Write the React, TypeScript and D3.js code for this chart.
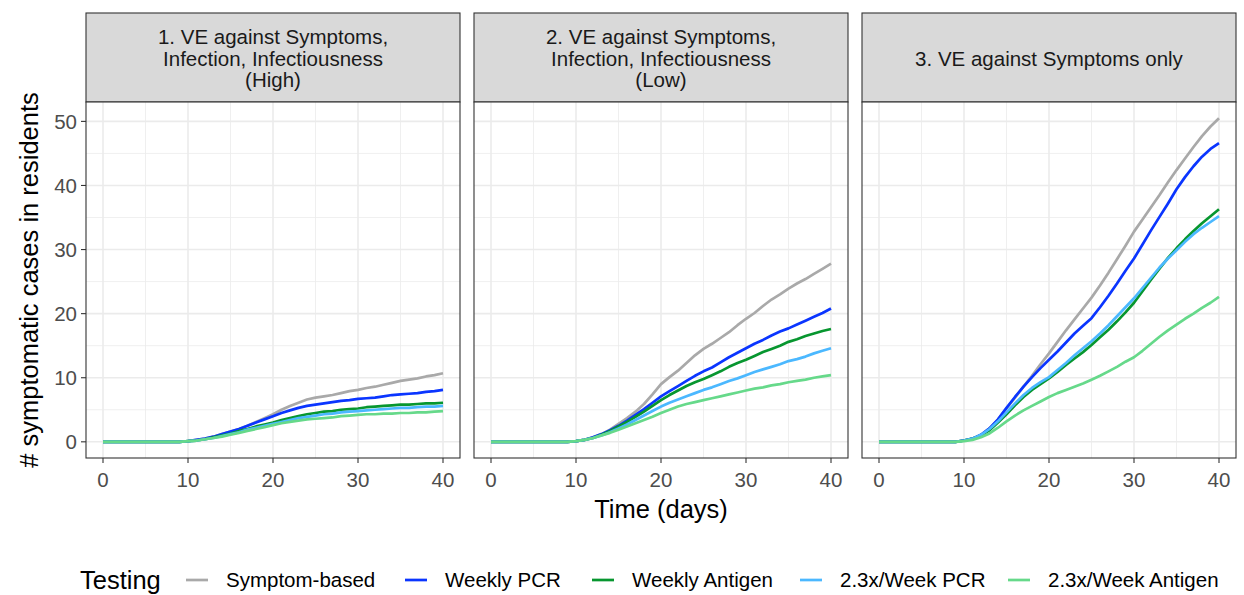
import React from "react";
import * as d3 from "d3";

const days = d3.range(0, 41);
const flat10 = [0, 0, 0, 0, 0, 0, 0, 0, 0, 0];

const seriesNames = ["Symptom-based", "Weekly PCR", "Weekly Antigen", "2.3x/Week PCR", "2.3x/Week Antigen"];
const seriesColors = ["#A9A9A9", "#0A35FF", "#07962F", "#4BB8FF", "#66D98A"];

const panelTitles = [
  ["1. VE against Symptoms,", "Infection, Infectiousness", "(High)"],
  ["2. VE against Symptoms,", "Infection, Infectiousness", "(Low)"],
  ["3. VE against Symptoms only"],
];

// Panel 1 (High)
const p1Symptom = [...flat10, 0.1, 0.3, 0.5, 0.8, 1.2, 1.6, 2.0, 2.5, 3.1, 3.7, 4.3, 5.0, 5.6, 6.1, 6.6, 6.9, 7.1, 7.3, 7.6, 7.9, 8.1, 8.4, 8.6, 8.9, 9.2, 9.5, 9.7, 9.9, 10.2, 10.4, 10.7];
const p1WeeklyPCR = [...flat10, 0.1, 0.3, 0.5, 0.8, 1.2, 1.6, 2.0, 2.5, 3.0, 3.5, 4.0, 4.5, 4.9, 5.3, 5.6, 5.8, 6.0, 6.2, 6.4, 6.5, 6.7, 6.8, 6.9, 7.1, 7.3, 7.4, 7.5, 7.6, 7.8, 7.9, 8.1];
const p1WeeklyAg = [...flat10, 0.1, 0.2, 0.4, 0.7, 1.0, 1.3, 1.7, 2.0, 2.4, 2.7, 3.0, 3.4, 3.7, 4.0, 4.3, 4.5, 4.7, 4.8, 5.0, 5.1, 5.2, 5.4, 5.5, 5.6, 5.7, 5.8, 5.8, 5.9, 6.0, 6.0, 6.1];
const p1TwiceWeekPCR = [...flat10, 0.1, 0.2, 0.4, 0.6, 0.9, 1.2, 1.5, 1.9, 2.2, 2.5, 2.8, 3.1, 3.4, 3.7, 3.9, 4.1, 4.3, 4.4, 4.6, 4.7, 4.8, 4.9, 5.0, 5.1, 5.2, 5.3, 5.3, 5.4, 5.5, 5.5, 5.6];
const p1TwiceWeekAg = [...flat10, 0.1, 0.2, 0.4, 0.6, 0.8, 1.1, 1.4, 1.7, 2.0, 2.3, 2.6, 2.9, 3.1, 3.3, 3.5, 3.6, 3.7, 3.8, 4.0, 4.1, 4.2, 4.3, 4.3, 4.4, 4.4, 4.5, 4.5, 4.6, 4.6, 4.7, 4.8];

// Panel 2 (Low)
const p2Symptom = [...flat10, 0.1, 0.3, 0.7, 1.2, 1.9, 2.8, 3.7, 4.7, 5.9, 7.4, 9.0, 10.1, 11.1, 12.3, 13.5, 14.5, 15.3, 16.2, 17.1, 18.2, 19.2, 20.1, 21.2, 22.2, 23.0, 23.9, 24.7, 25.4, 26.2, 27.0, 27.8];
const p2WeeklyPCR = [...flat10, 0.1, 0.3, 0.7, 1.2, 1.8, 2.5, 3.3, 4.2, 5.1, 6.1, 7.1, 7.9, 8.7, 9.5, 10.3, 11.0, 11.6, 12.4, 13.2, 13.9, 14.6, 15.3, 15.9, 16.6, 17.2, 17.7, 18.3, 18.9, 19.5, 20.1, 20.8];
const p2WeeklyAg = [...flat10, 0.1, 0.3, 0.6, 1.1, 1.7, 2.4, 3.1, 3.9, 4.7, 5.6, 6.5, 7.3, 8.0, 8.7, 9.3, 9.8, 10.4, 11.0, 11.7, 12.3, 12.8, 13.4, 14.0, 14.5, 15.0, 15.6, 16.0, 16.5, 16.9, 17.3, 17.6];
const p2TwiceWeekPCR = [...flat10, 0.1, 0.3, 0.6, 1.0, 1.5, 2.1, 2.7, 3.4, 4.1, 4.8, 5.5, 6.1, 6.6, 7.1, 7.6, 8.1, 8.5, 9.0, 9.5, 9.9, 10.4, 10.9, 11.3, 11.7, 12.1, 12.6, 12.9, 13.3, 13.8, 14.2, 14.6];
const p2TwiceWeekAg = [...flat10, 0.1, 0.3, 0.6, 1.0, 1.4, 1.9, 2.4, 2.9, 3.4, 3.9, 4.5, 5.0, 5.5, 5.9, 6.2, 6.5, 6.8, 7.1, 7.4, 7.7, 8.0, 8.3, 8.5, 8.8, 9.0, 9.3, 9.5, 9.7, 10.0, 10.2, 10.4];

// Panel 3 (Symptoms only)
const p3Symptom = [...flat10, 0.2, 0.5, 1.1, 2.1, 3.5, 5.2, 6.9, 8.6, 10.3, 12.1, 13.8, 15.6, 17.4, 19.1, 20.8, 22.5, 24.4, 26.4, 28.5, 30.6, 32.8, 34.7, 36.6, 38.5, 40.5, 42.4, 44.2, 46.0, 47.7, 49.2, 50.5];
const p3WeeklyPCR = [...flat10, 0.2, 0.5, 1.1, 2.1, 3.5, 5.3, 7.0, 8.6, 10.1, 11.5, 12.8, 14.1, 15.5, 16.9, 18.1, 19.3, 21.0, 22.8, 24.7, 26.7, 28.6, 30.8, 33.0, 35.1, 37.2, 39.4, 41.3, 43.0, 44.5, 45.7, 46.6];
const p3WeeklyAg = [...flat10, 0.2, 0.5, 1.0, 1.8, 3.0, 4.3, 5.7, 7.0, 8.1, 9.0, 9.9, 10.9, 12.0, 13.0, 14.0, 15.1, 16.3, 17.5, 18.8, 20.2, 21.7, 23.5, 25.3, 27.0, 28.7, 30.2, 31.6, 32.9, 34.1, 35.2, 36.3];
const p3TwiceWeekPCR = [...flat10, 0.2, 0.5, 1.1, 2.0, 3.2, 4.6, 6.0, 7.3, 8.4, 9.3, 10.1, 11.2, 12.3, 13.5, 14.6, 15.7, 16.9, 18.2, 19.6, 21.0, 22.4, 24.0, 25.6, 27.2, 28.6, 29.9, 31.2, 32.4, 33.4, 34.3, 35.2];
const p3TwiceWeekAg = [...flat10, 0.1, 0.3, 0.7, 1.3, 2.2, 3.2, 4.1, 4.9, 5.6, 6.3, 7.0, 7.6, 8.1, 8.6, 9.1, 9.7, 10.3, 11.0, 11.7, 12.5, 13.2, 14.2, 15.3, 16.4, 17.4, 18.3, 19.2, 20.0, 20.9, 21.7, 22.6];

const panelSeries = [
  [p1Symptom, p1WeeklyPCR, p1WeeklyAg, p1TwiceWeekPCR, p1TwiceWeekAg],
  [p2Symptom, p2WeeklyPCR, p2WeeklyAg, p2TwiceWeekPCR, p2TwiceWeekAg],
  [p3Symptom, p3WeeklyPCR, p3WeeklyAg, p3TwiceWeekPCR, p3TwiceWeekAg],
];

const xTicks = [0, 10, 20, 30, 40];
const xMinor = [5, 15, 25, 35];
const yTicks = [0, 10, 20, 30, 40, 50];
const yMinor = [5, 15, 25, 35, 45];

const yAxisTitle = "# symptomatic cases in residents";
const xAxisTitle = "Time (days)";
const legendTitle = "Testing";

const W = 1244;
const H = 595;
const FONT = "'Liberation Sans', Arial, Helvetica, sans-serif";
const SMALL = 20.5;
const BIG = 25.5;

export default function App() {
  const panelLeft = [86, 474, 862];
  const panelW = 374;
  const panelTop = 102;
  const panelBottom = 458;
  const stripTop = 13;

  const allVals = panelSeries.flat(2);
  const yMax = d3.max(allVals) as number;
  const yPad = yMax * 0.05;
  const y = d3.scaleLinear().domain([-yPad, yMax + yPad]).range([panelBottom, panelTop]);

  const legendKeyX = [186, 405, 592, 800, 1008];

  return (
    <svg width={W} height={H} style={{ position: "absolute", left: 0, top: 0, background: "#fff" }} fontFamily={FONT}>
      <rect x={0} y={0} width={W} height={H} fill="#fff" />
      {panelLeft.map((left, pi) => {
        const x = d3.scaleLinear().domain([-2, 42]).range([left, left + panelW]);
        const line = d3
          .line<number>()
          .x((_, i) => x(days[i]))
          .y((v) => y(v));
        const titleLines = panelTitles[pi];
        const lineH = 21.5;
        const stripMid = (stripTop + panelTop) / 2 + 1;
        return (
          <g key={pi}>
            <rect x={left} y={stripTop} width={panelW} height={panelTop - stripTop} fill="#D9D9D9" stroke="#333" strokeWidth={1.1} />
            {titleLines.map((t, li) => (
              <text
                key={li}
                x={left + panelW / 2}
                y={stripMid + (li - (titleLines.length - 1) / 2) * lineH}
                dy="0.35em"
                textAnchor="middle"
                fontSize={SMALL}
                fill="#1A1A1A"
              >
                {t}
              </text>
            ))}
            <rect x={left} y={panelTop} width={panelW} height={panelBottom - panelTop} fill="#fff" />
            {xMinor.map((t) => (
              <line key={"xm" + t} x1={x(t)} x2={x(t)} y1={panelTop} y2={panelBottom} stroke="#EBEBEB" strokeWidth={0.8} />
            ))}
            {yMinor.map((t) => (
              <line key={"ym" + t} x1={left} x2={left + panelW} y1={y(t)} y2={y(t)} stroke="#EBEBEB" strokeWidth={0.8} />
            ))}
            {xTicks.map((t) => (
              <line key={"xM" + t} x1={x(t)} x2={x(t)} y1={panelTop} y2={panelBottom} stroke="#EBEBEB" strokeWidth={1.6} />
            ))}
            {yTicks.map((t) => (
              <line key={"yM" + t} x1={left} x2={left + panelW} y1={y(t)} y2={y(t)} stroke="#EBEBEB" strokeWidth={1.6} />
            ))}
            {panelSeries[pi].map((s, si) => (
              <path key={si} d={line(s) || ""} fill="none" stroke={seriesColors[si]} strokeWidth={2.7} strokeLinejoin="round" strokeLinecap="butt" />
            ))}
            <rect x={left} y={panelTop} width={panelW} height={panelBottom - panelTop} fill="none" stroke="#333" strokeWidth={1.1} />
            {xTicks.map((t) => (
              <g key={"xt" + t}>
                <line x1={x(t)} x2={x(t)} y1={panelBottom} y2={panelBottom + 5} stroke="#333" strokeWidth={1.1} />
                <text x={x(t)} y={487} textAnchor="middle" fontSize={SMALL} fill="#4D4D4D">
                  {t}
                </text>
              </g>
            ))}
            {pi === 0 &&
              yTicks.map((t) => (
                <g key={"yt" + t}>
                  <line x1={left - 5} x2={left} y1={y(t)} y2={y(t)} stroke="#333" strokeWidth={1.1} />
                  <text x={left - 9} y={y(t)} dy="0.36em" textAnchor="end" fontSize={SMALL} fill="#4D4D4D">
                    {t}
                  </text>
                </g>
              ))}
          </g>
        );
      })}
      <text
        transform={`translate(38, ${(panelTop + panelBottom) / 2}) rotate(-90)`}
        textAnchor="middle"
        fontSize={BIG}
        fill="#000"
      >
        {yAxisTitle}
      </text>
      <text x={(panelLeft[0] + panelLeft[2] + panelW) / 2} y={518} textAnchor="middle" fontSize={BIG} fill="#000">
        {xAxisTitle}
      </text>
      <text x={80} y={589} fontSize={BIG} fill="#000">
        {legendTitle}
      </text>
      {seriesNames.map((n, i) => (
        <g key={n}>
          <line x1={legendKeyX[i]} x2={legendKeyX[i] + 22} y1={580} y2={580} stroke={seriesColors[i]} strokeWidth={2.7} />
          <text x={legendKeyX[i] + 40} y={587} fontSize={SMALL} fill="#000">
            {n}
          </text>
        </g>
      ))}
    </svg>
  );
}
